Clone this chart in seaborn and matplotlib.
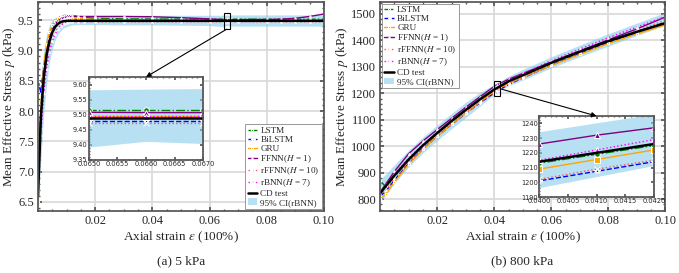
import matplotlib
matplotlib.use("Agg")
import matplotlib.pyplot as plt
import seaborn as sns
from matplotlib.patches import Rectangle, ConnectionPatch
from matplotlib.ticker import AutoMinorLocator

# ---- (a) 5 kPa ----
strain_a = [0.0, 0.001, 0.002, 0.003, 0.004, 0.005, 0.006, 0.007, 0.008, 0.009,
            0.010, 0.011, 0.012, 0.014, 0.016, 0.02, 0.03, 0.04, 0.05, 0.06,
            0.065, 0.066, 0.067, 0.07, 0.08, 0.085, 0.09, 0.095, 0.10]
cd_a = [6.60, 7.90, 8.55, 8.92, 9.15, 9.30, 9.39, 9.44, 9.47, 9.482,
        9.487, 9.488, 9.488, 9.488, 9.488, 9.488, 9.488, 9.488, 9.488, 9.488,
        9.488, 9.488, 9.488, 9.488, 9.488, 9.488, 9.488, 9.488, 9.488]
lstm_a = [6.90, 8.00, 8.70, 9.05, 9.27, 9.40, 9.48, 9.53, 9.56, 9.575,
          9.58, 9.58, 9.575, 9.56, 9.545, 9.53, 9.52, 9.518, 9.516, 9.515,
          9.515, 9.515, 9.515, 9.515, 9.515, 9.515, 9.515, 9.515, 9.515]
bilstm_a = [8.50, 8.30, 8.75, 9.00, 9.20, 9.33, 9.41, 9.46, 9.49, 9.50,
            9.505, 9.505, 9.50, 9.495, 9.49, 9.485, 9.482, 9.48, 9.48, 9.48,
            9.48, 9.48, 9.48, 9.48, 9.48, 9.48, 9.48, 9.48, 9.48]
gru_a = [6.50, 8.10, 8.75, 9.10, 9.30, 9.42, 9.49, 9.53, 9.55, 9.555,
         9.55, 9.545, 9.54, 9.53, 9.52, 9.51, 9.505, 9.50, 9.498, 9.497,
         9.497, 9.497, 9.497, 9.497, 9.497, 9.497, 9.497, 9.497, 9.497]
ffnn_a = [6.80, 7.95, 8.60, 8.97, 9.20, 9.34, 9.43, 9.49, 9.52, 9.54,
          9.55, 9.555, 9.56, 9.56, 9.56, 9.56, 9.56, 9.555, 9.54, 9.52,
          9.508, 9.507, 9.507, 9.508, 9.51, 9.515, 9.53, 9.56, 9.60]
rffnn_a = [6.70, 7.70, 8.40, 8.80, 9.05, 9.20, 9.30, 9.37, 9.41, 9.44,
           9.46, 9.47, 9.475, 9.475, 9.473, 9.472, 9.472, 9.472, 9.472, 9.472,
           9.472, 9.472, 9.472, 9.472, 9.472, 9.472, 9.472, 9.472, 9.472]
rbnn_a = [6.70, 7.60, 8.30, 8.70, 8.98, 9.15, 9.27, 9.35, 9.41, 9.45,
          9.47, 9.48, 9.49, 9.495, 9.495, 9.495, 9.495, 9.495, 9.495, 9.495,
          9.494, 9.494, 9.494, 9.494, 9.494, 9.494, 9.494, 9.494, 9.494]
ci_lo_a = [6.35, 7.20, 7.95, 8.45, 8.80, 9.02, 9.17, 9.27, 9.33, 9.37,
           9.39, 9.41, 9.42, 9.425, 9.425, 9.425, 9.42, 9.42, 9.415, 9.41,
           9.391, 9.41, 9.403, 9.40, 9.40, 9.40, 9.40, 9.40, 9.40]
ci_hi_a = [7.30, 8.50, 9.00, 9.27, 9.42, 9.50, 9.54, 9.56, 9.57, 9.58,
           9.58, 9.58, 9.58, 9.58, 9.575, 9.575, 9.575, 9.58, 9.58, 9.58,
           9.581, 9.583, 9.585, 9.585, 9.585, 9.585, 9.585, 9.585, 9.585]

# ---- (b) 800 kPa ----
strain_b = [0.0, 0.002, 0.005, 0.01, 0.015, 0.02, 0.025, 0.03, 0.035, 0.04,
            0.041, 0.042, 0.045, 0.05, 0.06, 0.07, 0.08, 0.09, 0.10]
cd_b = [822, 850, 890, 950, 1003, 1050, 1095, 1137, 1177, 1214,
        1220, 1226, 1245, 1268, 1315, 1357, 1397, 1432, 1465]
lstm_b = [870, 845, 885, 948, 1001, 1048, 1093, 1134, 1175, 1213,
          1219, 1225, 1243, 1267, 1313, 1355, 1396, 1432, 1466]
bilstm_b = [812, 830, 872, 935, 990, 1037, 1082, 1124, 1164, 1201,
            1207.5, 1214, 1233, 1258, 1306, 1350, 1392, 1430, 1468]
gru_b = [800, 820, 865, 932, 988, 1037, 1083, 1125, 1166, 1209,
         1215.5, 1222, 1237, 1260, 1305, 1347, 1388, 1424, 1458]
ffnn_b = [825, 858, 905, 972, 1020, 1063, 1105, 1147, 1187, 1226,
          1232, 1237, 1253, 1275, 1318, 1360, 1402, 1443, 1488]
rffnn_b = [815, 835, 878, 940, 994, 1041, 1086, 1128, 1167, 1202,
           1209, 1215, 1236, 1261, 1310, 1354, 1396, 1436, 1476]
rbnn_b = [830, 855, 895, 955, 1006, 1053, 1098, 1140, 1180, 1215,
          1222, 1229, 1250, 1274, 1323, 1367, 1410, 1450, 1490]
ci_lo_b = [790, 815, 860, 922, 975, 1022, 1066, 1108, 1152, 1196,
           1203.5, 1211, 1228, 1250, 1296, 1338, 1378, 1418, 1458]
ci_hi_b = [875, 895, 930, 985, 1035, 1080, 1124, 1166, 1203, 1234,
           1240, 1246, 1265, 1290, 1338, 1382, 1425, 1465, 1505]

labels = ["LSTM", "BiLSTM", "GRU", r"FFNN($H$ = 1)", r"rFFNN($H$ = 10)",
          r"rBNN($H$ = 7)"]
x_ticks = [0.02, 0.04, 0.06, 0.08, 0.10]

STYLES = [
    dict(color="green", linestyle="-.", marker="o"),
    dict(color="blue", linestyle="--", marker="*"),
    dict(color="orange", linestyle="-", marker="s"),
    dict(color="purple", linestyle="-", marker="^"),
    dict(color="#ff5555", linestyle=":", marker="x"),
    dict(color="magenta", linestyle=":", marker="^"),
]

sns.set_theme(style="ticks")
plt.rcParams["font.family"] = ["Liberation Serif", "DejaVu Serif"]
plt.rcParams["mathtext.fontset"] = "stix"
plt.rcParams["xtick.direction"] = "in"
plt.rcParams["ytick.direction"] = "in"
plt.rcParams["axes.edgecolor"] = "#555555"


def draw_curves(ax, x, series, cd, lo, hi, msize, lw=1.0, legend=True):
    ax.fill_between(x, lo, hi, color="skyblue", alpha=0.6, linewidth=0,
                    label="95% CI(rBNN)" if legend else None)
    for y, lab, st in zip(series, labels, STYLES):
        sns.lineplot(x=x, y=y, ax=ax, label=lab if legend else None,
                     linewidth=lw, markersize=msize, **st)
    sns.lineplot(x=x, y=cd, ax=ax, color="black", linewidth=1.8,
                 label="CD test" if legend else None)


def style_main(ax, ylim, yticks, yfmt):
    ax.set_xlim(0, 0.1)
    ax.set_ylim(*ylim)
    ax.set_xticks(x_ticks)
    ax.set_xticklabels(["%.2f" % t for t in x_ticks])
    ax.set_yticks(yticks)
    ax.set_yticklabels([yfmt % t for t in yticks])
    ax.xaxis.set_minor_locator(AutoMinorLocator(4))
    ax.yaxis.set_minor_locator(AutoMinorLocator(5))
    ax.tick_params(which="both", top=True, right=True, labelsize=9,
                   color="#555555", pad=3)
    ax.tick_params(which="major", length=3)
    ax.tick_params(which="minor", length=1.5)
    ax.grid(True, which="major", color="#d8d8d8", linewidth=1.2)
    ax.set_axisbelow(True)
    ax.set_xlabel(r"Axial strain $\varepsilon$ (100%)", fontsize=9.5, labelpad=2)
    ax.set_ylabel(r"Mean Effective Stress $p$ (kPa)", fontsize=9.5, labelpad=1)


def style_inset(ax, xlim, ylim, xticks, yticks, xfmt, yfmt):
    ax.set_xlim(*xlim)
    ax.set_ylim(*ylim)
    ax.set_xticks(xticks)
    ax.set_xticklabels([xfmt % t for t in xticks])
    ax.set_yticks(yticks)
    ax.set_yticklabels([yfmt % t for t in yticks])
    ax.xaxis.set_minor_locator(AutoMinorLocator(5))
    ax.yaxis.set_minor_locator(AutoMinorLocator(5))
    ax.tick_params(which="both", top=True, right=True, labelsize=4.8,
                   pad=1, color="#555555")
    ax.tick_params(which="major", length=2)
    ax.tick_params(which="minor", length=1)
    for t in ax.get_xticklabels() + ax.get_yticklabels():
        t.set_family("DejaVu Sans")
    ax.grid(False)
    ax.set_xlabel("")
    ax.set_ylabel("")


fig = plt.figure(figsize=(6.79, 2.73), dpi=100)
ax_a = fig.add_axes([0.056, 0.227, 0.421, 0.766])
ax_b = fig.add_axes([0.560, 0.227, 0.420, 0.766])

series_a = [lstm_a, bilstm_a, gru_a, ffnn_a, rffnn_a, rbnn_a]
series_b = [lstm_b, bilstm_b, gru_b, ffnn_b, rffnn_b, rbnn_b]

draw_curves(ax_a, strain_a, series_a, cd_a, ci_lo_a, ci_hi_a, msize=1.5)
draw_curves(ax_b, strain_b, series_b, cd_b, ci_lo_b, ci_hi_b, msize=1.5)
style_main(ax_a, (6.35, 9.8), [6.5, 7.0, 7.5, 8.0, 8.5, 9.0, 9.5], "%.1f")
style_main(ax_b, (755, 1545), [800, 900, 1000, 1100, 1200, 1300, 1400, 1500], "%d")

order = [1, 2, 3, 4, 5, 6, 7, 0]
for ax, loc in [(ax_a, "lower right"), (ax_b, "upper left")]:
    h, l = ax.get_legend_handles_labels()
    leg = ax.legend([h[i] for i in order], [l[i] for i in order], loc=loc,
                    fontsize=6.6, labelspacing=0.05, handlelength=1.0,
                    handletextpad=0.4, borderpad=0.25, borderaxespad=0.2,
                    fancybox=False, framealpha=1, edgecolor="#888888")
    leg.get_frame().set_linewidth(0.6)

# insets
in_a = fig.add_axes([0.131, 0.414, 0.168, 0.304])
in_b = fig.add_axes([0.794, 0.278, 0.169, 0.297])
draw_curves(in_a, strain_a, series_a, cd_a, ci_lo_a, ci_hi_a, msize=4, legend=False)
draw_curves(in_b, strain_b, series_b, cd_b, ci_lo_b, ci_hi_b, msize=4, legend=False)
style_inset(in_a, (0.065, 0.067), (9.35, 9.625),
            [0.065, 0.0655, 0.066, 0.0665, 0.067],
            [9.35, 9.40, 9.45, 9.50, 9.55, 9.60], "%.4f", "%.2f")
style_inset(in_b, (0.040, 0.042), (1190, 1245),
            [0.040, 0.0405, 0.041, 0.0415, 0.042],
            [1190, 1200, 1210, 1220, 1230, 1240], "%.4f", "%d")

# zoom boxes and arrows
ax_a.add_patch(Rectangle((0.065, 9.35), 0.002, 0.275, fill=False,
                         edgecolor="black", linewidth=0.8, zorder=10))
ax_b.add_patch(Rectangle((0.040, 1190), 0.002, 55, fill=False,
                         edgecolor="black", linewidth=0.8, zorder=10))
for xy_a, ax, inset in [((0.066, 9.35), ax_a, in_a), ((0.042, 1217), ax_b, in_b)]:
    con = ConnectionPatch(xyA=xy_a, coordsA=ax.transData, xyB=(0.5, 1.0),
                          coordsB=inset.transAxes, arrowstyle="-|>",
                          mutation_scale=7, color="black", linewidth=0.8)
    fig.add_artist(con)

fig.text(0.267, 0.033, "(a) 5 kPa", ha="center", fontsize=9.5)
fig.text(0.769, 0.033, "(b) 800 kPa", ha="center", fontsize=9.5)

fig.savefig("out.png", dpi=100)
